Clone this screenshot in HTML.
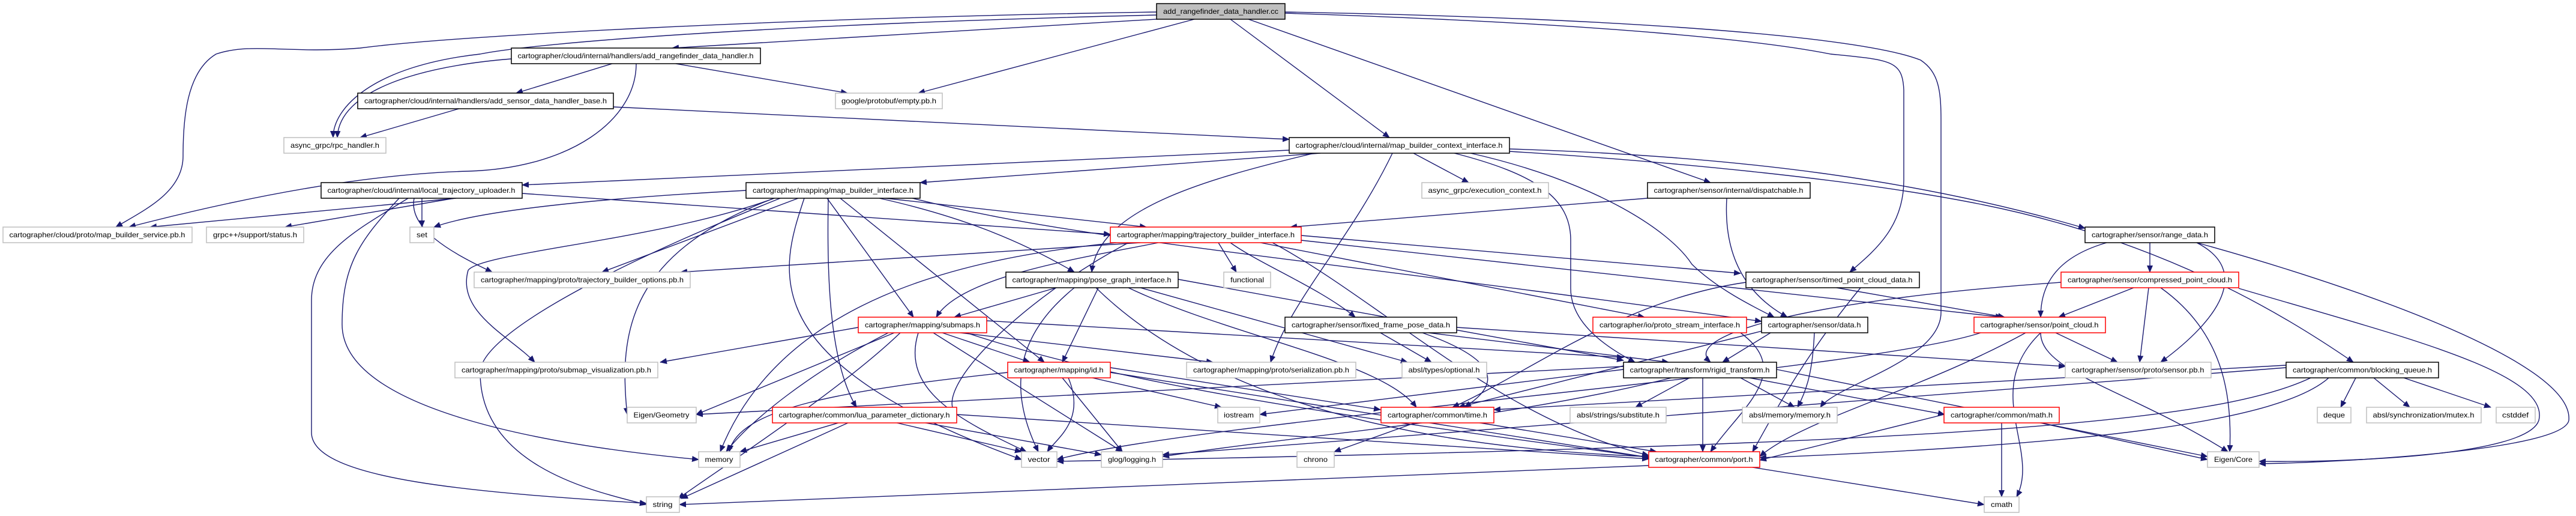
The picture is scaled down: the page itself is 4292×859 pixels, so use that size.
<!DOCTYPE html>
<html><head><meta charset="utf-8"><style>
html,body{margin:0;padding:0;background:#fff;}
svg{display:block;}
text{font-family:"Liberation Sans",Arial,sans-serif;font-size:12px;fill:#000;}
</style></head><body>
<svg width="4292" height="859" viewBox="0 0 4292 859" xmlns="http://www.w3.org/2000/svg">
<defs>
<marker id="ar" markerWidth="12" markerHeight="10" refX="11" refY="5" orient="auto" markerUnits="userSpaceOnUse">
<path d="M0,0 L12,5 L0,10 z" fill="#191970"/>
</marker>
</defs>
<g fill="none" stroke="#191970" stroke-width="1.4" marker-end="url(#ar)">
<path d="M1960 30 L1120 80"/>
<path d="M1990 32 L1530 155"/>
<path d="M2050 32 L2315 229"/>
<path d="M2080 32 L2850 304"/>
<path d="M1927 20 C1300 30,750 60,600 80 C480 90,420 70,360 90 C310 120,305 200,305 260 C305 320,240 350,193 378"/>
<path d="M1927 25 C1300 40,900 70,800 90 C620 110,555 180,555 229"/>
<path d="M852 98 C700 110,565 150,562 229"/>
<path d="M2141 22 C2700 40,2950 70,3050 90 C3150 100,3170 100,3172 150 L3172 300 C3172 380,3120 420,3082 453"/>
<path d="M2141 20 C2700 30,3100 60,3200 100 C3230 120,3234 150,3234 200 L3234 520 C3234 600,3060 640,3033 678"/>
<path d="M1020 106 L860 155"/>
<path d="M1126 106 L1412 155"/>
<path d="M1060 106 C1060 200,950 280,780 285 C600 290,400 330,215 378"/>
<path d="M768 180 L600 229"/>
<path d="M1022 178 L2148 232"/>
<path d="M2148 250 L870 308"/>
<path d="M2200 255 L1533 304"/>
<path d="M2355 255 L2447 304"/>
<path d="M2190 255 C2000 300,1830 350,1819 453"/>
<path d="M2320 255 C2250 400,2150 500,2117 603"/>
<path d="M2423 255 C2560 290,2617 330,2617 400 L2617 480 C2617 540,2680 580,2724 603"/>
<path d="M2450 255 C2650 300,2780 380,2819 440 C2860 480,2920 510,2956 528"/>
<path d="M2515 248 C2900 260,3200 300,3474 380"/>
<path d="M2515 252 C2800 270,3100 300,3300 340 C3600 400,3800 520,3921 603"/>
<path d="M2745 330 L2150 378"/>
<path d="M2877 330 C2873 400,2890 480,2978 528"/>
<path d="M760 330 L250 378"/>
<path d="M757 330 L475 378"/>
<path d="M703 330 L703 378"/>
<path d="M690 330 C680 380,750 420,820 453"/>
<path d="M680 330 C600 380,519 420,519 500 L519 720 C519 800,800 820,1077 838"/>
<path d="M665 330 C600 400,570 440,570 540 C570 680,900 740,1164 765"/>
<path d="M870 322 L1850 390"/>
<path d="M1243 317 C1000 330,800 350,723 378"/>
<path d="M1330 330 L1003 453"/>
<path d="M1475 330 L1910 378"/>
<path d="M1465 330 C1600 360,1700 400,1790 453"/>
<path d="M1378 330 L1522 528"/>
<path d="M1400 330 L1740 603"/>
<path d="M1380 330 C1378 450,1380 600,1427 678"/>
<path d="M1290 330 C1100 400,800 420,780 450 C760 520,850 560,891 603"/>
<path d="M1300 330 C1000 450,800 560,800 620 C800 780,1000 820,1077 840"/>
<path d="M1290 330 C1050 420,1030 550,1045 690"/>
<path d="M1340 330 C1300 450,1250 600,1702 765"/>
<path d="M1520 330 C1800 400,2100 420,2935 535"/>
<path d="M1900 404 L1134 453"/>
<path d="M1930 404 C1800 430,1600 460,1560 528"/>
<path d="M2030 404 L2060 453"/>
<path d="M2168 392 L2900 455"/>
<path d="M2050 404 C2100 440,2200 480,2258 528"/>
<path d="M2100 404 L2740 528"/>
<path d="M2168 400 L3336 528"/>
<path d="M2120 404 C2300 500,2500 700,2747 758"/>
<path d="M1860 404 C1600 430,1300 500,1200 752"/>
<path d="M1880 404 C1700 500,1550 650,1594 690"/>
<path d="M1760 479 L1590 528"/>
<path d="M1830 479 L1770 603"/>
<path d="M1790 479 C1690 560,1680 650,1730 752"/>
<path d="M1900 479 L2345 603"/>
<path d="M1963 465 L2705 600"/>
<path d="M1826 479 C1950 600,2200 740,2747 760"/>
<path d="M1880 479 C2050 560,2300 600,2360 678"/>
<path d="M1430 545 L1100 603"/>
<path d="M1570 554 L1716 603"/>
<path d="M1490 554 L1160 690"/>
<path d="M1480 554 C1350 620,1250 700,1210 752"/>
<path d="M1530 554 C1500 650,1600 700,1710 752"/>
<path d="M1555 554 L1870 752"/>
<path d="M1600 554 L2021 603"/>
<path d="M1644 534 L2705 595"/>
<path d="M1500 554 C1400 650,1200 780,1130 830"/>
<path d="M1610 554 C1900 650,2300 700,2750 762"/>
<path d="M3060 479 L3340 528"/>
<path d="M2909 470 C2700 500,2550 620,2420 678"/>
<path d="M3100 479 C3000 600,2950 700,2920 752"/>
<path d="M3555 479 L3430 528"/>
<path d="M3580 479 L3565 603"/>
<path d="M3600 479 C3700 550,3720 650,3715 752"/>
<path d="M3434 470 C3000 500,2800 560,2850 603"/>
<path d="M3510 404 C3420 430,3400 480,3400 528"/>
<path d="M3582 404 L3582 453"/>
<path d="M3660 404 C3750 450,3700 530,3600 603"/>
<path d="M3660 404 C3900 470,4290 600,4280 700 C4270 750,3900 770,3764 772"/>
<path d="M3730 480 C4000 560,4250 620,4230 700 C4210 760,3900 770,3764 768"/>
<path d="M2950 554 L2870 603"/>
<path d="M3023 554 C3020 620,3010 650,2995 678"/>
<path d="M2940 550 L2430 678"/>
<path d="M2300 554 L2385 603"/>
<path d="M2380 554 L2780 603"/>
<path d="M2370 554 C2500 600,2500 640,2440 678"/>
<path d="M2427 545 L3441 610"/>
<path d="M2900 554 C2990 620,2900 680,2850 752"/>
<path d="M3425 554 L3528 603"/>
<path d="M3400 554 C3300 650,3400 750,3360 827"/>
<path d="M3400 554 C3400 620,3550 650,3712 752"/>
<path d="M3375 554 C3200 650,3000 700,2932 760"/>
<path d="M3300 554 C3100 620,2000 700,1761 765"/>
<path d="M1679 620 C1400 650,1230 680,1215 752"/>
<path d="M1780 629 C1810 700,1760 730,1745 752"/>
<path d="M1770 629 L1870 752"/>
<path d="M1820 629 L2035 678"/>
<path d="M1850 612 L2300 682"/>
<path d="M1850 620 L2750 762"/>
<path d="M2815 629 L2725 678"/>
<path d="M2837 629 L2837 752"/>
<path d="M2915 629 L3240 690"/>
<path d="M2705 610 L1160 690"/>
<path d="M2705 615 L2099 690"/>
<path d="M2785 629 C2500 700,2200 720,1937 760"/>
<path d="M2960 615 L3678 760"/>
<path d="M2900 629 L2990 678"/>
<path d="M3925 629 L3900 678"/>
<path d="M3955 629 L4015 678"/>
<path d="M4005 629 L4150 678"/>
<path d="M3880 629 C3800 700,3500 740,2932 762"/>
<path d="M3809 612 L1937 757"/>
<path d="M3809 608 L2489 682"/>
<path d="M3850 629 C3700 700,3300 740,1761 768"/>
<path d="M1400 703 L1233 752"/>
<path d="M1490 703 L1702 752"/>
<path d="M1520 700 L1835 757"/>
<path d="M1594 690 L2747 764"/>
<path d="M1415 703 L1135 830"/>
<path d="M2360 703 L2223 752"/>
<path d="M2460 703 L2760 752"/>
<path d="M3335 703 L3335 827"/>
<path d="M3395 703 L3678 765"/>
<path d="M3239 690 L2932 766"/>
<path d="M2747 775 L1132 840"/>
<path d="M2920 778 L3306 840"/>
</g>
<g stroke-width="1.5">
<rect x="1927" y="6" width="214" height="26" fill="#bfbfbf" stroke="#000"/>
<rect x="852" y="80" width="415" height="26" fill="#fff" stroke="#000"/>
<rect x="596" y="155" width="426" height="26" fill="#fff" stroke="#000"/>
<rect x="1392" y="155" width="178" height="26" fill="#fff" stroke="#bfbfbf"/>
<rect x="473" y="229" width="170" height="26" fill="#fff" stroke="#bfbfbf"/>
<rect x="2148" y="229" width="367" height="26" fill="#fff" stroke="#000"/>
<rect x="535" y="304" width="335" height="26" fill="#fff" stroke="#000"/>
<rect x="1243" y="304" width="290" height="26" fill="#fff" stroke="#000"/>
<rect x="2369" y="304" width="211" height="26" fill="#fff" stroke="#bfbfbf"/>
<rect x="2745" y="304" width="271" height="26" fill="#fff" stroke="#000"/>
<rect x="5" y="378" width="315" height="26" fill="#fff" stroke="#bfbfbf"/>
<rect x="344" y="378" width="162" height="26" fill="#fff" stroke="#bfbfbf"/>
<rect x="683" y="378" width="40" height="26" fill="#fff" stroke="#bfbfbf"/>
<rect x="1850" y="378" width="318" height="26" fill="#fff" stroke="#ff0000"/>
<rect x="3474" y="378" width="216" height="26" fill="#fff" stroke="#000"/>
<rect x="790" y="453" width="360" height="26" fill="#fff" stroke="#bfbfbf"/>
<rect x="1676" y="453" width="287" height="26" fill="#fff" stroke="#000"/>
<rect x="2039" y="453" width="78" height="26" fill="#fff" stroke="#bfbfbf"/>
<rect x="2909" y="453" width="289" height="26" fill="#fff" stroke="#000"/>
<rect x="3434" y="453" width="296" height="26" fill="#fff" stroke="#ff0000"/>
<rect x="1430" y="528" width="214" height="26" fill="#fff" stroke="#ff0000"/>
<rect x="2141" y="528" width="286" height="26" fill="#fff" stroke="#000"/>
<rect x="2654" y="528" width="256" height="26" fill="#fff" stroke="#ff0000"/>
<rect x="2935" y="528" width="177" height="26" fill="#fff" stroke="#000"/>
<rect x="3289" y="528" width="219" height="26" fill="#fff" stroke="#ff0000"/>
<rect x="758" y="603" width="338" height="26" fill="#fff" stroke="#bfbfbf"/>
<rect x="1679" y="603" width="171" height="26" fill="#fff" stroke="#ff0000"/>
<rect x="1977" y="603" width="282" height="26" fill="#fff" stroke="#bfbfbf"/>
<rect x="2336" y="603" width="141" height="26" fill="#fff" stroke="#bfbfbf"/>
<rect x="2705" y="603" width="255" height="26" fill="#fff" stroke="#000"/>
<rect x="3441" y="603" width="243" height="26" fill="#fff" stroke="#bfbfbf"/>
<rect x="3809" y="603" width="254" height="26" fill="#fff" stroke="#000"/>
<rect x="1045" y="678" width="115" height="26" fill="#fff" stroke="#bfbfbf"/>
<rect x="1287" y="678" width="307" height="26" fill="#fff" stroke="#ff0000"/>
<rect x="2029" y="678" width="70" height="26" fill="#fff" stroke="#bfbfbf"/>
<rect x="2301" y="678" width="188" height="26" fill="#fff" stroke="#ff0000"/>
<rect x="2616" y="678" width="160" height="26" fill="#fff" stroke="#bfbfbf"/>
<rect x="2903" y="678" width="158" height="26" fill="#fff" stroke="#bfbfbf"/>
<rect x="3239" y="678" width="192" height="26" fill="#fff" stroke="#ff0000"/>
<rect x="3861" y="678" width="56" height="26" fill="#fff" stroke="#bfbfbf"/>
<rect x="3943" y="678" width="191" height="26" fill="#fff" stroke="#bfbfbf"/>
<rect x="4159" y="678" width="65" height="26" fill="#fff" stroke="#bfbfbf"/>
<rect x="1164" y="752" width="69" height="26" fill="#fff" stroke="#bfbfbf"/>
<rect x="1702" y="752" width="59" height="26" fill="#fff" stroke="#bfbfbf"/>
<rect x="1835" y="752" width="102" height="26" fill="#fff" stroke="#bfbfbf"/>
<rect x="2161" y="752" width="62" height="26" fill="#fff" stroke="#bfbfbf"/>
<rect x="2747" y="752" width="185" height="26" fill="#fff" stroke="#ff0000"/>
<rect x="3678" y="752" width="86" height="26" fill="#fff" stroke="#bfbfbf"/>
<rect x="1077" y="827" width="55" height="26" fill="#fff" stroke="#bfbfbf"/>
<rect x="3306" y="827" width="58" height="26" fill="#fff" stroke="#bfbfbf"/>
</g>
<g text-anchor="middle" lengthAdjust="spacingAndGlyphs">
<text x="2034" y="23" textLength="192" lengthAdjust="spacingAndGlyphs">add_rangefinder_data_handler.cc</text>
<text x="1059" y="97" textLength="393" lengthAdjust="spacingAndGlyphs">cartographer/cloud/internal/handlers/add_rangefinder_data_handler.h</text>
<text x="809" y="172" textLength="404" lengthAdjust="spacingAndGlyphs">cartographer/cloud/internal/handlers/add_sensor_data_handler_base.h</text>
<text x="1481" y="172" textLength="158" lengthAdjust="spacingAndGlyphs">google/protobuf/empty.pb.h</text>
<text x="558" y="246" textLength="148" lengthAdjust="spacingAndGlyphs">async_grpc/rpc_handler.h</text>
<text x="2331" y="246" textLength="345" lengthAdjust="spacingAndGlyphs">cartographer/cloud/internal/map_builder_context_interface.h</text>
<text x="702" y="321" textLength="313" lengthAdjust="spacingAndGlyphs">cartographer/cloud/internal/local_trajectory_uploader.h</text>
<text x="1388" y="321" textLength="268" lengthAdjust="spacingAndGlyphs">cartographer/mapping/map_builder_interface.h</text>
<text x="2474" y="321" textLength="189" lengthAdjust="spacingAndGlyphs">async_grpc/execution_context.h</text>
<text x="2880" y="321" textLength="249" lengthAdjust="spacingAndGlyphs">cartographer/sensor/internal/dispatchable.h</text>
<text x="162" y="395" textLength="293" lengthAdjust="spacingAndGlyphs">cartographer/cloud/proto/map_builder_service.pb.h</text>
<text x="425" y="395" textLength="140" lengthAdjust="spacingAndGlyphs">grpc++/support/status.h</text>
<text x="703" y="395" textLength="18" lengthAdjust="spacingAndGlyphs">set</text>
<text x="2009" y="395" textLength="296" lengthAdjust="spacingAndGlyphs">cartographer/mapping/trajectory_builder_interface.h</text>
<text x="3582" y="395" textLength="194" lengthAdjust="spacingAndGlyphs">cartographer/sensor/range_data.h</text>
<text x="970" y="470" textLength="338" lengthAdjust="spacingAndGlyphs">cartographer/mapping/proto/trajectory_builder_options.pb.h</text>
<text x="1819" y="470" textLength="265" lengthAdjust="spacingAndGlyphs">cartographer/mapping/pose_graph_interface.h</text>
<text x="2078" y="470" textLength="56" lengthAdjust="spacingAndGlyphs">functional</text>
<text x="3053" y="470" textLength="267" lengthAdjust="spacingAndGlyphs">cartographer/sensor/timed_point_cloud_data.h</text>
<text x="3582" y="470" textLength="274" lengthAdjust="spacingAndGlyphs">cartographer/sensor/compressed_point_cloud.h</text>
<text x="1537" y="545" textLength="192" lengthAdjust="spacingAndGlyphs">cartographer/mapping/submaps.h</text>
<text x="2284" y="545" textLength="264" lengthAdjust="spacingAndGlyphs">cartographer/sensor/fixed_frame_pose_data.h</text>
<text x="2782" y="545" textLength="234" lengthAdjust="spacingAndGlyphs">cartographer/io/proto_stream_interface.h</text>
<text x="3023" y="545" textLength="155" lengthAdjust="spacingAndGlyphs">cartographer/sensor/data.h</text>
<text x="3398" y="545" textLength="197" lengthAdjust="spacingAndGlyphs">cartographer/sensor/point_cloud.h</text>
<text x="927" y="620" textLength="316" lengthAdjust="spacingAndGlyphs">cartographer/mapping/proto/submap_visualization.pb.h</text>
<text x="1764" y="620" textLength="149" lengthAdjust="spacingAndGlyphs">cartographer/mapping/id.h</text>
<text x="2118" y="620" textLength="260" lengthAdjust="spacingAndGlyphs">cartographer/mapping/proto/serialization.pb.h</text>
<text x="2406" y="620" textLength="119" lengthAdjust="spacingAndGlyphs">absl/types/optional.h</text>
<text x="2832" y="620" textLength="233" lengthAdjust="spacingAndGlyphs">cartographer/transform/rigid_transform.h</text>
<text x="3562" y="620" textLength="221" lengthAdjust="spacingAndGlyphs">cartographer/sensor/proto/sensor.pb.h</text>
<text x="3936" y="620" textLength="232" lengthAdjust="spacingAndGlyphs">cartographer/common/blocking_queue.h</text>
<text x="1102" y="695" textLength="93" lengthAdjust="spacingAndGlyphs">Eigen/Geometry</text>
<text x="1440" y="695" textLength="285" lengthAdjust="spacingAndGlyphs">cartographer/common/lua_parameter_dictionary.h</text>
<text x="2064" y="695" textLength="50" lengthAdjust="spacingAndGlyphs">iostream</text>
<text x="2395" y="695" textLength="166" lengthAdjust="spacingAndGlyphs">cartographer/common/time.h</text>
<text x="2696" y="695" textLength="138" lengthAdjust="spacingAndGlyphs">absl/strings/substitute.h</text>
<text x="2982" y="695" textLength="136" lengthAdjust="spacingAndGlyphs">absl/memory/memory.h</text>
<text x="3335" y="695" textLength="170" lengthAdjust="spacingAndGlyphs">cartographer/common/math.h</text>
<text x="3889" y="695" textLength="36" lengthAdjust="spacingAndGlyphs">deque</text>
<text x="4038" y="695" textLength="169" lengthAdjust="spacingAndGlyphs">absl/synchronization/mutex.h</text>
<text x="4191" y="695" textLength="44" lengthAdjust="spacingAndGlyphs">cstddef</text>
<text x="1198" y="769" textLength="47" lengthAdjust="spacingAndGlyphs">memory</text>
<text x="1731" y="769" textLength="37" lengthAdjust="spacingAndGlyphs">vector</text>
<text x="1886" y="769" textLength="80" lengthAdjust="spacingAndGlyphs">glog/logging.h</text>
<text x="2192" y="769" textLength="40" lengthAdjust="spacingAndGlyphs">chrono</text>
<text x="2839" y="769" textLength="163" lengthAdjust="spacingAndGlyphs">cartographer/common/port.h</text>
<text x="3721" y="769" textLength="64" lengthAdjust="spacingAndGlyphs">Eigen/Core</text>
<text x="1104" y="844" textLength="33" lengthAdjust="spacingAndGlyphs">string</text>
<text x="3335" y="844" textLength="36" lengthAdjust="spacingAndGlyphs">cmath</text>
</g>
</svg>
</body></html>
